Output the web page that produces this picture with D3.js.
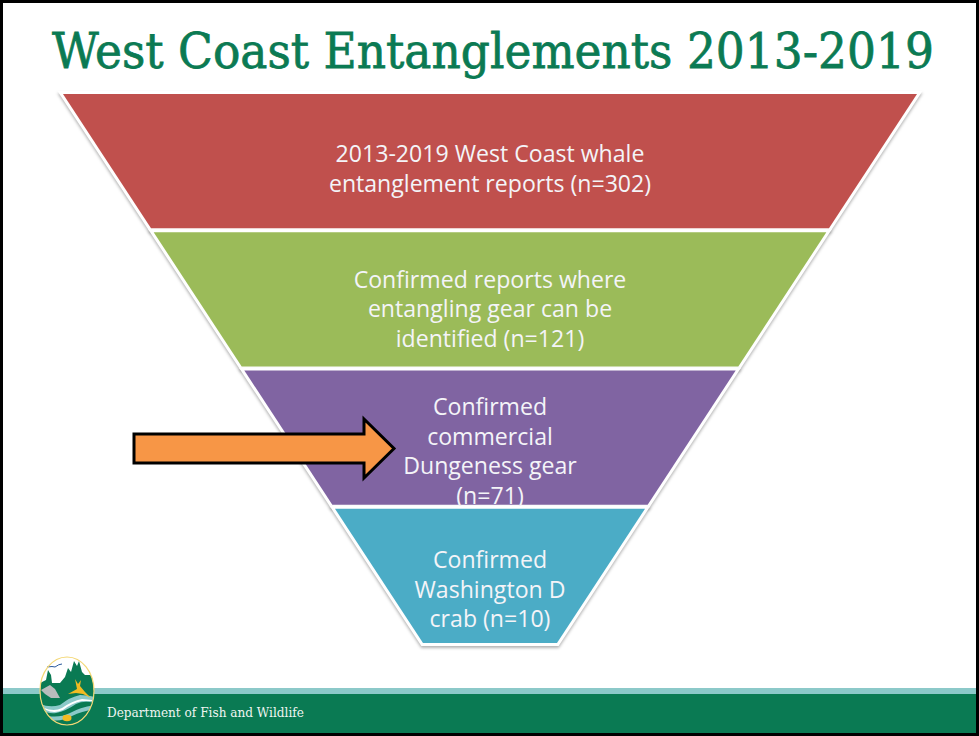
<!DOCTYPE html>
<html>
  <head>
    <style>
      html, body {
        padding: 0;
        margin: 0;
        overflow: hidden;
        background: #ffffff;
      }
      svg {
        display: block;
      }
      .stage {
        stroke: #ffffff;
        stroke-width: 6;
        stroke-linejoin: miter;
        paint-order: stroke;
        filter: drop-shadow(0 2px 1.5px rgba(0, 0, 0, .3));
      }
      .label {
        font-family: "Open Sans", "Noto Sans", sans-serif;
        font-size: 23.1px;
        fill: #f4f4f8;
        text-anchor: middle;
      }
    </style>
  </head>
  <body>
    <div id="chart"></div>
    <script src="https://cdnjs.cloudflare.com/ajax/libs/d3/7.8.5/d3.min.js"></script>
    <script>
      const titleText = 'West Coast Entanglements 2013-2019'
      const footerText = 'Department of Fish and Wildlife'

      const stages = ['reports', 'gear', 'dungeness', 'washington']
      const counts = [302, 121, 71, 10]
      const stageLines = [
        ['2013-2019 West Coast whale', 'entanglement reports (n=302)'],
        ['Confirmed reports where', 'entangling gear can be', 'identified (n=121)'],
        ['Confirmed', 'commercial', 'Dungeness gear', '(n=71)'],
        ['Confirmed', 'Washington D', 'crab (n=10)'],
      ]
      const stageColors = ['#c0504d', '#9bbb59', '#8064a2', '#4bacc6']

      const width = 979
      const height = 736
      const centerX = 490
      const funnelTop = 94
      const funnelBottom = 643

      const svg = d3.select('#chart')
        .append('svg')
        .attr('width', width)
        .attr('height', height)

      // the funnel is not to scale, every stage gets the same height
      const y = d3.scaleBand().domain(stages).range([funnelTop, funnelBottom]).paddingInner(0.029)
      const halfWidth = d3.scaleLinear().domain([funnelTop, funnelBottom]).range([427, 67])

      // title, squeezed font so it keeps the slide's width and cap height
      const title = svg.append('text')
        .attr('transform', 'translate(52,68) scale(1,1.08)')
        .attr('fill', '#0b7a53')
        .attr('stroke', '#0b7a53')
        .attr('stroke-width', 0.7)
        .style('font-family', '"DejaVu Serif", serif')
        .style('font-size', '42px')
        .text(titleText)
      title.style('font-size', 42 * 882 / title.node().getComputedTextLength() + 'px')

      // drawn in order on purpose, the next stage covers the overflowing text of the last one
      const textShift = [16, 18, 22, 22]
      stages.forEach((stage, i) => {
        const y0 = y(stage)
        const y1 = y0 + y.bandwidth()
        const points = [
          [centerX - halfWidth(y0), y0],
          [centerX + halfWidth(y0), y0],
          [centerX + halfWidth(y1), y1],
          [centerX - halfWidth(y1), y1],
        ]
        const g = svg.append('g').attr('data-count', counts[i])

        g.append('path')
          .attr('class', 'stage')
          .attr('fill', stageColors[i])
          .attr('d', d3.line()(points) + 'Z')

        const lines = stageLines[i]
        const lineHeight = 29.5
        const middle = y0 + y.bandwidth() / 2 + textShift[i]
        g.selectAll('text')
          .data(lines)
          .enter().append('text')
          .attr('class', 'label')
          .attr('x', centerX)
          .attr('y', (d, j) => middle + (j - (lines.length - 1) / 2) * lineHeight)
          .text(d => d)
      })

      // arrow
      const arrowPath = d3.path()
      arrowPath.moveTo(134, 434)
      arrowPath.lineTo(364, 434)
      arrowPath.lineTo(364, 419)
      arrowPath.lineTo(394, 448.5)
      arrowPath.lineTo(364, 478)
      arrowPath.lineTo(364, 463)
      arrowPath.lineTo(134, 463)
      arrowPath.closePath()
      svg.append('path')
        .attr('d', arrowPath.toString())
        .attr('fill', '#f79646')
        .attr('stroke', '#000000')
        .attr('stroke-width', 3)

      // footer bands
      svg.append('rect').attr('x', 0).attr('y', 688).attr('width', width).attr('height', 6).attr('fill', '#8cc9c9')
      svg.append('rect').attr('x', 0).attr('y', 694).attr('width', width).attr('height', 42).attr('fill', '#0a7a53')

      svg.append('text')
        .attr('x', 107)
        .attr('y', 717)
        .attr('fill', '#eef5f1')
        .style('font-family', '"DejaVu Serif", serif')
        .style('font-size', '12.1px')
        .text(footerText)

      // logo
      const logo = svg.append('g')
      const clip = svg.append('clipPath').attr('id', 'logo-clip')
      clip.append('ellipse').attr('cx', 67).attr('cy', 691).attr('rx', 27).attr('ry', 34)

      logo.append('ellipse')
        .attr('cx', 67).attr('cy', 691).attr('rx', 27).attr('ry', 34)
        .attr('fill', '#ffffff')

      const inner = logo.append('g').attr('clip-path', 'url(#logo-clip)')
      const logoShapes = [
        // trees and ground
        ['#0a7a53', 'M38 726 L38 684 L46 680 L48 670 L51 675 L52 683 L60 683 L65 677 L68 668 L71 672 L74 661 L77 666 L79 661 L82 672 L85 675 L95 675 L95 726Z'],
        // rock
        ['#b9bcbc', 'M41 690 L50 685 L55 689 L60 698 L51 698 L45 694Z'],
        // water
        ['#8cc9c9', 'M40 704 Q50 708 60 705 Q70 697 80 695 Q88 695 95 697 L95 703 Q84 700 76 704 Q66 711 56 713 Q48 714 42 710Z'],
        ['#ffffff', 'M44 708 Q54 712 62 708 Q72 701 82 699 L92 700 L92 701 L82 701 Q72 703 63 710 Q54 714 46 710Z'],
        ['#8cc9c9', 'M48 716 Q60 718 70 713 Q80 707 95 705 L95 709 Q82 711 72 716 Q60 722 52 720Z'],
      ]
      inner.selectAll('path')
        .data(logoShapes)
        .enter().append('path')
        .attr('fill', d => d[0])
        .attr('d', d => d[1])

      // deer, crab, bird
      logo.append('path')
        .attr('fill', '#f2bb22')
        .attr('d', 'M68 694 L77 689 L75 679 L78 684 L81 680 L80 686 L85 692 L91 698 L83 694 L76 693Z')
      logo.append('ellipse').attr('cx', 67).attr('cy', 718).attr('rx', 4.5).attr('ry', 3.2).attr('fill', '#f2bb22')
      logo.append('path')
        .attr('fill', 'none').attr('stroke', '#2c5a9c').attr('stroke-width', 1)
        .attr('d', 'M47 667 Q53 666 55 667 Q59 664 62 664')

      logo.append('ellipse')
        .attr('cx', 67).attr('cy', 691).attr('rx', 27).attr('ry', 34)
        .attr('fill', 'none').attr('stroke', '#f3d774').attr('stroke-width', 1.2)

      // slide frame
      svg.append('rect')
        .attr('x', 1.5).attr('y', 1.5)
        .attr('width', width - 3).attr('height', height - 3)
        .attr('fill', 'none')
        .attr('stroke', '#000000')
        .attr('stroke-width', 3)
    </script>
  </body>
</html>
